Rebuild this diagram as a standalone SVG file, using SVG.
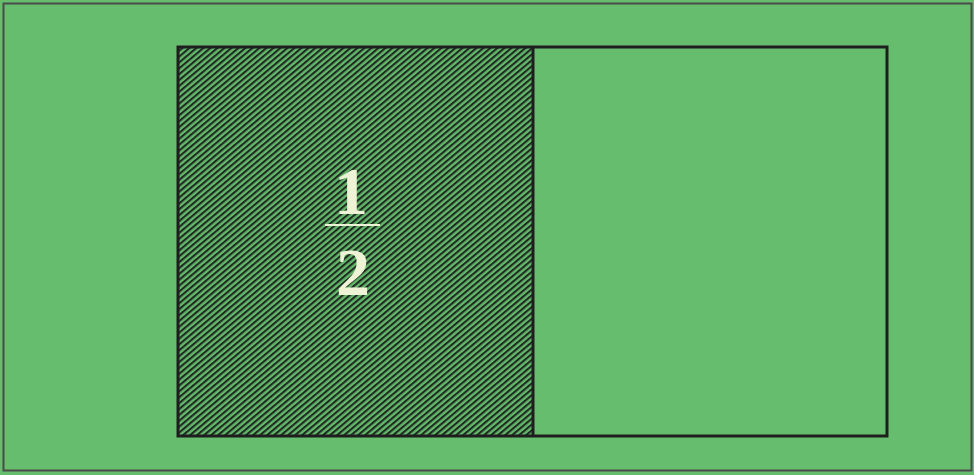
<svg xmlns="http://www.w3.org/2000/svg" width="974" height="475" viewBox="0 0 974 475">
<defs>
<pattern id="hatch" patternUnits="userSpaceOnUse" width="4.5" height="4.5" patternTransform="rotate(-40)">
<rect width="4.5" height="4.5" fill="#63b96b"/>
<rect width="4.5" height="2.1" fill="#1f2a20"/>
</pattern>
<style>
.frac{font-family:"Liberation Serif",serif;font-weight:bold;font-size:68px;fill:#eef3d6;text-anchor:middle}
</style>
</defs>
<rect x="0" y="0" width="974" height="475" fill="#67bd6e"/>
<rect x="3.5" y="3.5" width="968" height="467" fill="none" stroke="#4a4a4a" stroke-width="2"/>
<g id="shaded-half">
<rect x="178" y="47" width="355" height="389" fill="url(#hatch)"/>
</g>
<g id="empty-half">
<rect x="533" y="47" width="354" height="389" fill="#67bd6e"/>
</g>
<g id="outline">
<rect x="178" y="47" width="709" height="389" fill="none" stroke="#1e1e1e" stroke-width="3"/>
<line x1="533" y1="47" x2="533" y2="436" stroke="#1e1e1e" stroke-width="3"/>
</g>
<g id="fraction">
<text class="frac" x="351" y="214">1</text>
<line x1="325" y1="225" x2="380" y2="225" stroke="#eef3d6" stroke-width="2"/>
<text class="frac" x="353" y="295">2</text>
</g>
</svg>
